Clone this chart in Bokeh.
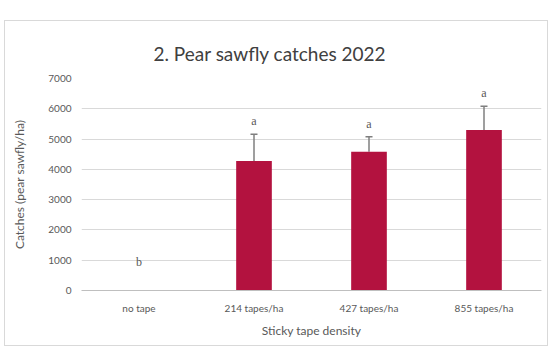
from bokeh.plotting import figure
from bokeh.models import ColumnDataSource, Whisker, FactorRange, LabelSet, TeeHead
from bokeh.embed import file_html
from bokeh.resources import INLINE

categories = ["no tape", "214 tapes/ha", "427 tapes/ha", "855 tapes/ha"]
catches = [0, 4280, 4580, 5300]
errors = [0, 880, 500, 780]
letters = ["b", "a", "a", "a"]
y_ticks = [0, 1000, 2000, 3000, 4000, 5000, 6000, 7000]

upper = [c + e for c, e in zip(catches, errors)]
letter_y = [u + 200 if c > 0 else 700 for u, c in zip(upper, catches)]

src = ColumnDataSource(dict(cat=categories, val=catches, lab=letters, ly=letter_y))
idx = [i for i, e in enumerate(errors) if e > 0]
err_src = ColumnDataSource(dict(cat=[categories[i] for i in idx],
                                base=[catches[i] for i in idx],
                                up=[upper[i] for i in idx]))

FONT = "Lato"
GRAY = "#595959"

p = figure(x_range=FactorRange(*categories, range_padding=0.0), y_range=(0, 7000),
           width=544, height=326, output_backend="svg", toolbar_location=None,
           title="2. Pear sawfly catches 2022",
           min_border_left=76, min_border_right=8, min_border_top=57, min_border_bottom=57,
           margin=(20, 0, 0, 4))
p.styles = {"border": "1px solid #d9d9d9"}

p.vbar(x="cat", top="val", width=0.31, source=src, fill_color="#b3123f", line_color=None)
w = Whisker(base="cat", lower="base", upper="up", source=err_src, line_color="#7f7f7f", line_width=1.5,
            upper_head=TeeHead(size=7, line_color="#7f7f7f", line_width=1.5), lower_head=None)
p.add_layout(w)
p.add_layout(LabelSet(x="cat", y="ly", text="lab", source=src, text_align="center",
                      text_font=FONT, text_font_size="9pt", text_color=GRAY))

p.title.align = "left"
p.title.offset = 72
p.title.text_font = FONT
p.title.text_font_style = "normal"
p.title.text_font_size = "19px"
p.title.text_color = "#404040"
p.title.standoff = 28

p.yaxis.ticker = y_ticks
p.yaxis.axis_label = "Catches (pear sawfly/ha)"
p.xaxis.axis_label = "Sticky tape density"
for ax in (p.xaxis, p.yaxis):
    ax.axis_label_text_font = FONT
    ax.axis_label_text_font_style = "normal"
    ax.axis_label_text_font_size = "12px"
    ax.axis_label_text_color = GRAY
    ax.major_label_text_font = FONT
    ax.major_label_text_font_size = "10px"
    ax.major_label_text_color = GRAY
    ax.major_tick_line_color = None
    ax.minor_tick_line_color = None
p.yaxis.axis_line_color = None
p.xaxis.axis_line_color = "#bfbfbf"
p.xaxis.major_label_standoff = 5
p.xaxis.axis_label_standoff = 6
p.yaxis.major_label_standoff = 4
p.yaxis.axis_label_standoff = 18
p.xgrid.grid_line_color = None
p.ygrid.grid_line_color = "#d9d9d9"
p.outline_line_color = None
p.background_fill_color = "white"
p.border_fill_color = "white"

open("out.html", "w").write(file_html(p, INLINE))
